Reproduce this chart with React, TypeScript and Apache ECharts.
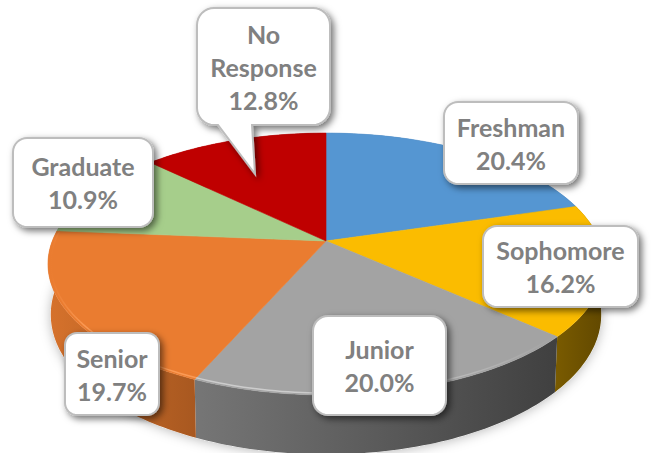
import React, { useEffect, useRef } from "react";
import * as echarts from "echarts";

const categories = ["Freshman", "Sophomore", "Junior", "Senior", "Graduate", "No Response"];
const shares = [20.4, 16.2, 20.0, 19.7, 10.9, 12.8];
const topColors = ["#5596d2", "#fbbc00", "#a3a3a3", "#ea7c30", "#a6ce8b", "#bf0000"];
const wallLeft = ["#3f6f9c", "#7a5b00", "#767676", "#d6722c", "#7a9a66", "#8f0000"];
const wallRight = ["#3f6f9c", "#614800", "#404040", "#a85820", "#7a9a66", "#8f0000"];
const rimColors = ["#5596d2", "#fbbc00", "#cccccc", "#fb9a55", "#a6ce8b", "#bf0000"];
const labelLines = [["Freshman"], ["Sophomore"], ["Junior"], ["Senior"], ["Graduate"], ["No", "Response"]];

// Callout layout: [left, top, right, bottom, radius]
const calloutBoxes = [
  [444, 102, 578, 184, 14],
  [483, 226, 638, 307, 14],
  [313, 316, 446, 415, 15],
  [65, 333, 159, 415, 12],
  [13, 138, 153, 227, 14],
  [197, 8, 330, 125, 17],
];
const tail = { index: 5, points: [[252, 125], [255, 174], [218, 125]] };

// Perspective projection of the pie disc
const X0 = 326, Y0 = 241, RX = 273.7, RY = 126.9, K = 0.1756, DEPTH = 49;

function project(theta: number, r = 1, drop = 0) {
  const u = Math.sin(theta) * r;
  const v = -Math.cos(theta) * r;
  const w = 1 - K * v;
  const shrink = drop ? 0.99 : 1;
  return [X0 + (RX * u * shrink) / w, Y0 + (RY * v) / w + (drop * DEPTH) / w];
}

function arc(a0: number, a1: number, r = 1, drop = 0) {
  const n = Math.max(2, Math.ceil(Math.abs(a1 - a0) / 0.02));
  const pts: number[][] = [];
  for (let i = 0; i <= n; i++) pts.push(project(a0 + ((a1 - a0) * i) / n, r, drop));
  return pts;
}

function roundedBox(b: number[], withTail: number[][] | null) {
  const [l, t, r, btm, rad] = b;
  const pts: number[][] = [];
  const corner = (cx: number, cy: number, start: number) => {
    for (let i = 0; i <= 8; i++) {
      const a = start + (i / 8) * (Math.PI / 2);
      pts.push([cx + rad * Math.cos(a), cy + rad * Math.sin(a)]);
    }
  };
  corner(l + rad, t + rad, Math.PI);
  corner(r - rad, t + rad, -Math.PI / 2);
  corner(r - rad, btm - rad, 0);
  if (withTail) pts.push(...withTail);
  corner(l + rad, btm - rad, Math.PI / 2);
  return pts;
}

const total = shares.reduce((a, b) => a + b, 0);
let running = 0;
const sliceData = shares.map((value, i) => {
  const row = [running, value, i];
  running += value;
  return row;
});
const angle = (v: number) => (v / total) * Math.PI * 2;

const TEXT_FONT = "bold 25px Lato";

export default function App() {
  const ref = useRef<HTMLDivElement>(null);
  useEffect(() => {
    if (!ref.current) return;
    const chart = echarts.init(ref.current, undefined, { renderer: "svg" });
    chart.setOption({
      animation: false,
      backgroundColor: "#ffffff",
      series: [
        {
          type: "custom",
          coordinateSystem: "none",
          z: 1,
          silent: true,
          data: sliceData,
          renderItem: (_p: any, api: any) => {
            const a0 = angle(api.value(0));
            const a1 = a0 + angle(api.value(1));
            const i = api.value(2);
            const top = arc(a0, a1);
            const bottom = arc(a1, a0, 1, 1);
            const children: any[] = [];
            if (i === 0) {
              children.push({
                type: "polygon",
                shape: { points: arc(0, Math.PI * 2, 1, 1) },
                style: { fill: "#ffffff", shadowBlur: 12, shadowColor: "rgba(0,0,0,0.28)", shadowOffsetY: 1 },
              });
            }
            children.push({
              type: "polygon",
              z2: 1,
              shape: { points: [...top, ...bottom] },
              style: {
                fill: new echarts.graphic.LinearGradient(0, 0, 1, 0, [
                  { offset: 0, color: wallLeft[i] },
                  { offset: 1, color: wallRight[i] },
                ]),
              },
            });
            return { type: "group", children };
          },
        },
        {
          type: "custom",
          coordinateSystem: "none",
          z: 2,
          silent: true,
          data: sliceData,
          renderItem: (_p: any, api: any) => {
            const a0 = angle(api.value(0));
            const a1 = a0 + angle(api.value(1));
            const i = api.value(2);
            const points = [[X0, Y0], ...arc(a0, a1)];
            const rim = arc(a0, a1, 0.99);
            const rimFade = i === 2 || i === 3;
            return {
              type: "group",
              children: [
                {
                  type: "polygon",
                  shape: { points },
                  style: { fill: topColors[i], stroke: topColors[i], lineWidth: 0.6 },
                },
                ...(rimFade
                  ? [
                      {
                        type: "polyline",
                        z2: 2,
                        shape: { points: rim },
                        style: {
                          fill: "none",
                          lineWidth: 1.5,
                          stroke: new echarts.graphic.LinearGradient(0, 0, 1, 0, [
                            { offset: 0, color: i === 2 ? rimColors[i] : topColors[i] },
                            { offset: i === 2 ? 0.5 : 0.25, color: rimColors[i] },
                            { offset: 1, color: i === 2 ? topColors[i] : rimColors[i] },
                          ]),
                        },
                      },
                    ]
                  : []),
              ],
            };
          },
        },
        {
          type: "custom",
          coordinateSystem: "none",
          z: 3,
          silent: true,
          data: sliceData,
          renderItem: (_p: any, api: any) => {
            const i = api.value(2);
            const b = calloutBoxes[i];
            const text = [...labelLines[i], `${api.value(1).toFixed(1)}%`].join("\n");
            return {
              type: "group",
              children: [
                {
                  type: "polygon",
                  shape: { points: roundedBox(b, tail.index === i ? tail.points : null) },
                  style: {
                    fill: "#ffffff",
                    stroke: "#bdbdbd",
                    lineWidth: 2,
                    shadowBlur: 7,
                    shadowOffsetX: 3,
                    shadowOffsetY: 3,
                    shadowColor: "rgba(0,0,0,0.55)",
                  },
                },
                {
                  type: "text",
                  z2: 2,
                  style: {
                    text,
                    x: (b[0] + b[2]) / 2,
                    y: (b[1] + b[3]) / 2,
                    align: "center",
                    verticalAlign: "middle",
                    font: TEXT_FONT,
                    lineHeight: 33,
                    fill: "#808080",
                  },
                },
              ],
            };
          },
        },
      ],
    });
    return () => chart.dispose();
  }, []);
  return <div ref={ref} style={{ position: "absolute", left: 0, top: 0, width: 653, height: 453 }} aria-label={categories.join(", ")} />;
}
